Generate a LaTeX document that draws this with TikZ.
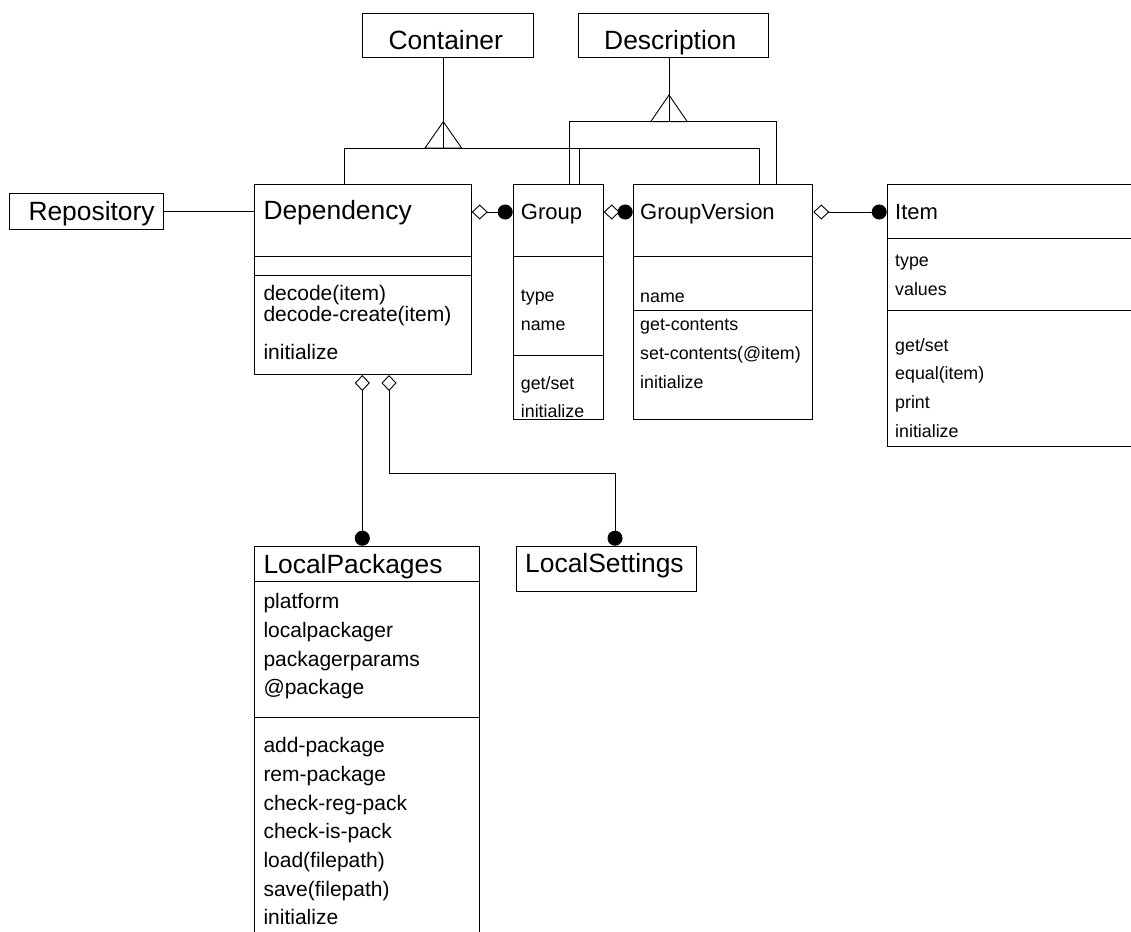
\documentclass[tikz,border=0pt]{standalone}
\usepackage{fontspec}
\setmainfont{Liberation Sans}
\usetikzlibrary{arrows.meta}

\tikzset{
  cls/.style={draw, line width=1pt, inner sep=0pt, anchor=north west},
  % large class boxes
  headA/.style={inner sep=0pt, anchor=base west, font=\fontsize{26.4}{30}\selectfont},
  txtA/.style={inner sep=0pt, anchor=base west, font=\fontsize{21}{24}\selectfont},
  % compact class boxes
  headB/.style={inner sep=0pt, anchor=base west, font=\fontsize{22}{25}\selectfont},
  txtB/.style={inner sep=0pt, anchor=base west, font=\fontsize{17.8}{21}\selectfont},
  wire/.style={line width=0.9pt},
  agg/.style={wire, {Diamond[open,length=16pt,width=15pt]}-{Circle[length=15pt]}},
}

\begin{document}
\begin{tikzpicture}[x=1pt, y=-1pt]
\useasboundingbox (0,0) rectangle (1131,931);
\clip (0,0) rectangle (1131,931);

% class boxes
\node[cls, minimum width=154pt,   minimum height=36pt]    (rep)  at (9.3,193.3) {};
\node[cls, minimum width=171pt,   minimum height=44.6pt]  (cont) at (362,12.7) {};
\node[cls, minimum width=190pt,   minimum height=44.6pt]  (desc) at (578,12.7) {};
\node[cls, minimum width=216.7pt, minimum height=189.7pt] (dep)  at (254,184.3) {};
\node[cls, minimum width=90pt,    minimum height=234.7pt] (grp)  at (512.7,184.3) {};
\node[cls, minimum width=179.6pt, minimum height=234.7pt] (gv)   at (632.7,184.3) {};
\node[cls, minimum width=260pt,   minimum height=261.4pt] (item) at (886.7,184.3) {};
\node[cls, minimum width=225pt,   minimum height=400pt]   (lp)   at (254,545.7) {};
\node[cls, minimum width=180.3pt, minimum height=45pt]    (ls)   at (515.7,545.7) {};

% compartment separators
\foreach \b/\y in {dep/256.7, dep/275, grp/256.7, grp/355.7, gv/256.7, gv/310.7,
                   item/238.3, item/310.7, lp/581.7, lp/717.3} {
  \coordinate (sep) at (0,\y);
  \draw[line width=1pt] (\b.west |- sep) -- (\b.east |- sep);
}

% titles
\node[headA] (tRep)  at (28.3,220.7) {Repository};
\node[headA] (tCont) at (388.3,49.3) {Container};
\node[headA] (tDesc) at (604,49.3)   {Description};
\node[headA] (tDep)  at (263.3,219)  {Dependency};
\node[headB] (tGrp)  at (520.7,219)  {Group};
\node[headB] (tGv)   at (640,219)    {GroupVersion};
\node[headB] (tItem) at (895,219.3)  {Item};
\node[headA] (tLp)   at (263.3,573.3) {LocalPackages};
\node[headA] (tLs)   at (525,572.7)  {LocalSettings};

% Dependency members
\node[txtA] (dep1) at (263.3,300.7) {decode(item)};
\node[txtA] (dep2) at (263.3,321.7) {decode-create(item)};
\node[txtA] (dep3) at (263.3,359.3) {initialize};

% Group members
\node[txtB] (grp1) at (520.7,301.7) {type};
\node[txtB] (grp2) at (520.7,330.5) {name};
\node[txtB] (grp3) at (520.7,389)   {get/set};
\node[txtB] (grp4) at (520.7,417.3) {initialize};

% GroupVersion members
\node[txtB] (gv1) at (640,302)   {name};
\node[txtB] (gv2) at (640,330)   {get-contents};
\node[txtB] (gv3) at (640,359.5) {set-contents(@item)};
\node[txtB] (gv4) at (640,388.5) {initialize};

% Item members
\node[txtB] (it1) at (895,266.5) {type};
\node[txtB] (it2) at (895,295)   {values};
\node[txtB] (it3) at (895,351.5) {get/set};
\node[txtB] (it4) at (895,379.8) {equal(item)};
\node[txtB] (it5) at (895,408)   {print};
\node[txtB] (it6) at (895,437.5) {initialize};

% LocalPackages members
\foreach \t [count=\i from 0] in {platform, localpackager, packagerparams, @package}
  \node[txtA] (lpa\i) at (263.3,608.6+28.7*\i) {\t};
\foreach \t [count=\i from 0] in {add-package, rem-package, check-reg-pack, check-is-pack,
                                  load(filepath), save(filepath), initialize}
  \node[txtA] (lpm\i) at (263.3,752.7+28.7*\i) {\t};

% association
\draw[wire] (rep.east) -- (rep.east -| dep.west);

% aggregations
\coordinate (rowA) at (0,212);
\draw[agg] (dep.east |- rowA) -- (grp.west |- rowA);
\draw[agg] (grp.east |- rowA) -- (gv.west |- rowA);
\draw[agg] (gv.east |- rowA) -- (item.west |- rowA);

\coordinate (lpx) at (362.3,0);
\draw[agg] (dep.south -| lpx) -- (lp.north -| lpx);
\coordinate (lsx) at (389,0);
\coordinate (lsbend) at (615,473.3);
\draw[agg] (dep.south -| lsx) |- (lsbend) -- (ls.north -| lsbend);

% generalization: Container
\coordinate (cA) at (443.3,121.7);
\coordinate (gA) at (344,148);
\coordinate (gB) at (579.3,148);
\coordinate (gC) at (759.3,148);
\draw[wire] (cont.south -| cA) -- (cA |- gA);
\draw[wire] (cA) -- ++(-18.3,26.3) -- ++(36.6,0) -- cycle;
\draw[wire] (dep.north -| gA) -- (gA) -- (gC) -- (gv.north -| gC);
\draw[wire] (gB) -- (grp.north -| gB);

% generalization: Description
\coordinate (dA) at (669,95);
\coordinate (hA) at (569.3,121.7);
\coordinate (hB) at (776.7,121.7);
\draw[wire] (desc.south -| dA) -- (dA |- hA);
\draw[wire] (dA) -- ++(-18.3,26.7) -- ++(36.6,0) -- cycle;
\draw[wire] (grp.north -| hA) -- (hA) -- (hB) -- (gv.north -| hB);
\end{tikzpicture}
\end{document}
